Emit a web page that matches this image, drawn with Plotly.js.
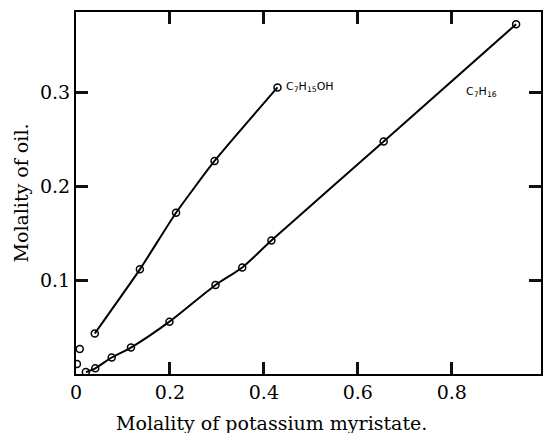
<!DOCTYPE html>
<html>
<head>
<meta charset="utf-8">
<script src="https://cdn.plot.ly/plotly-3.0.1.min.js"></script>
<style>html,body{margin:0;padding:0;background:#fff;}#chart{width:544px;height:433px;}</style>
</head>
<body>
<div id="chart"></div>
<script>
// C7H15OH (heptanol) series
const alcoholX = [0.040, 0.136, 0.213, 0.295, 0.429];
const alcoholY = [0.044, 0.112, 0.172, 0.227, 0.305];
// C7H16 (heptane) series
const heptaneX = [0.021, 0.041, 0.076, 0.117, 0.199, 0.297, 0.354, 0.416, 0.655, 0.937];
const heptaneY = [0.003, 0.007, 0.0185, 0.029, 0.0565, 0.0954, 0.114, 0.1425, 0.2476, 0.372];
// isolated points near the origin
const extraX = [0.008, 0.002];
const extraY = [0.0275, 0.0115];

const xTicks = [0, 0.2, 0.4, 0.6, 0.8];
const xTickText = ['0', '0.2', '0.4', '0.6', '0.8'];
const yTicks = [0.1, 0.2, 0.3];
const yTickText = ['0.1', '0.2', '0.3'];
const xRange = [0, 0.99];
const yRange = [0.001, 0.385];

const markerStyle = {symbol: 'circle-open', size: 7, color: '#000', line: {width: 1.5, color: '#000'}};

const traces = [
  {x: alcoholX, y: alcoholY, mode: 'lines+markers', type: 'scatter',
   line: {color: '#000', width: 2, shape: 'spline', smoothing: 0.5}, marker: markerStyle, cliponaxis: true},
  {x: heptaneX, y: heptaneY, mode: 'lines+markers', type: 'scatter',
   line: {color: '#000', width: 2, shape: 'spline', smoothing: 0.7}, marker: markerStyle, cliponaxis: true},
  {x: extraX, y: extraY, mode: 'markers', type: 'scatter', marker: markerStyle, cliponaxis: true}
];

const serif = 'DejaVu Serif, Liberation Serif, serif';
const layout = {
  width: 544, height: 433,
  margin: {l: 76, r: 3, t: 12, b: 59},
  paper_bgcolor: '#fff', plot_bgcolor: '#fff',
  showlegend: false,
  font: {family: serif, color: '#000', size: 18},
  xaxis: {
    range: xRange, tickmode: 'array', tickvals: xTicks, ticktext: xTickText,
    ticks: 'inside', ticklen: 12, tickwidth: 3, tickcolor: '#111',
    showline: true, linewidth: 2, linecolor: 'black', mirror: 'allticks',
    showgrid: false, zeroline: false,
    tickfont: {family: serif, size: 19, color: '#000'}
  },
  yaxis: {
    range: yRange, tickmode: 'array', tickvals: yTicks, ticktext: yTickText,
    ticks: 'inside', ticklen: 12, tickwidth: 3, tickcolor: '#111',
    showline: true, linewidth: 2, linecolor: 'black', mirror: 'allticks',
    showgrid: false, zeroline: false,
    tickfont: {family: serif, size: 19, color: '#000'},
    title: {text: 'Molality of oil.', font: {family: serif, size: 19, color: '#000'}, standoff: 6}
  },
  annotations: [
    {x: 0.4215, y: -0.135, xref: 'paper', yref: 'paper', text: 'Molality of potassium myristate.', showarrow: false,
     xanchor: 'center', yanchor: 'middle', font: {family: serif, size: 19, color: '#000'}},
    {x: 0.429, y: 0.305, xref: 'x', yref: 'y', text: 'C<sub>7</sub>H<sub>15</sub>OH', showarrow: false,
     xanchor: 'left', yanchor: 'middle', xshift: 6,
     font: {family: 'DejaVu Sans, sans-serif', size: 11, color: '#000'}},
    {x: 0.826, y: 0.300, xref: 'x', yref: 'y', text: 'C<sub>7</sub>H<sub>16</sub>', showarrow: false,
     xanchor: 'left', yanchor: 'middle',
     font: {family: 'DejaVu Sans, sans-serif', size: 11, color: '#000'}}
  ]
};

Plotly.newPlot('chart', traces, layout, {displayModeBar: false, staticPlot: true});
</script>
</body>
</html>
